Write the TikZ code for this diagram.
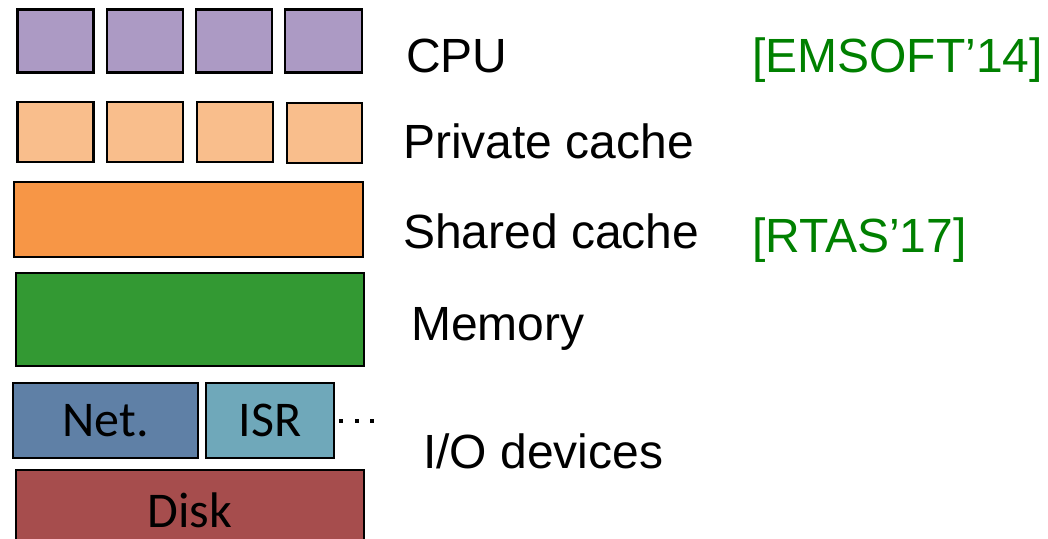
\documentclass[tikz,border=0pt]{standalone}
\usepackage{fontspec}
\setmainfont{Liberation Sans}
\newfontfamily\boxfont{Carlito}
\definecolor{cpucol}{HTML}{AC9AC4}
\definecolor{privcol}{HTML}{F9BE8C}
\definecolor{sharedcol}{HTML}{F79646}
\definecolor{memcol}{HTML}{339933}
\definecolor{netcol}{HTML}{5F80A6}
\definecolor{isrcol}{HTML}{6FA8BA}
\definecolor{diskcol}{HTML}{A64D4D}
\definecolor{refcol}{HTML}{008000}
\tikzset{
  unit/.style={draw=black, line width=2.4pt, rectangle, inner sep=0pt, outer sep=0pt,
               font=\boxfont\fontsize{50}{60}\selectfont},
  layer/.style={anchor=base west, inner sep=0pt, font=\fontsize{48}{58}\selectfont},
  cite/.style={layer, text=refcol},
}
\begin{document}
\begin{tikzpicture}[x=1pt, y=-1pt]
\useasboundingbox (0,0) rectangle (1048,538);
\clip (0,0) rectangle (1048,538);

% cores
\node[unit, fill=cpucol, minimum width=76, minimum height=63] (cpu1) at (55.5,41) {};
\node[unit, fill=cpucol, minimum width=76, minimum height=63] (cpu2) at (145,41) {};
\node[unit, fill=cpucol, minimum width=76, minimum height=63] (cpu3) at (234,41) {};
\node[unit, fill=cpucol, minimum width=77, minimum height=63] (cpu4) at (323.5,41) {};

% private caches
\node[unit, fill=privcol, minimum width=76, minimum height=60] (pc1) at (55.5,132) {};
\node[unit, fill=privcol, minimum width=76, minimum height=60] (pc2) at (145,132) {};
\node[unit, fill=privcol, minimum width=76, minimum height=60] (pc3) at (235,132) {};
\node[unit, fill=privcol, minimum width=75, minimum height=60] (pc4) at (324.5,133) {};

% shared cache and memory
\node[unit, fill=sharedcol, minimum width=349, minimum height=75] (llc) at (188.5,219.5) {};
\node[unit, fill=memcol, minimum width=348, minimum height=93] (mem) at (190,319.5) {};

% I/O devices
\node[unit, fill=netcol, minimum width=185, minimum height=75] (net) at (105.5,420.5) {Net.};
\node[unit, fill=isrcol, minimum width=128, minimum height=75] (isr) at (270,420.5) {ISR};
\fill (339,419) rectangle ++(4,4);
\fill (354.5,419) rectangle ++(4,4);
\fill (370,419) rectangle ++(4,4);
\node[unit, fill=diskcol, minimum width=348, minimum height=80] (disk) at (190,510) {Disk};

% layer labels
\node[layer] (lcpu) at (406,72) {CPU};
\node[layer] (lpriv) at (403,158) {Private cache};
\node[layer] (lshared) at (403,248) {Shared cache};
\node[layer] (lmem) at (411,340) {Memory};
\node[layer] (lio) at (423,468) {I/O devices};

% references
\node[cite] (r1) at (752,72) {[EMSOFT’14]};
\node[cite] (r2) at (752,252) {[RTAS’17]};
\end{tikzpicture}
\end{document}
